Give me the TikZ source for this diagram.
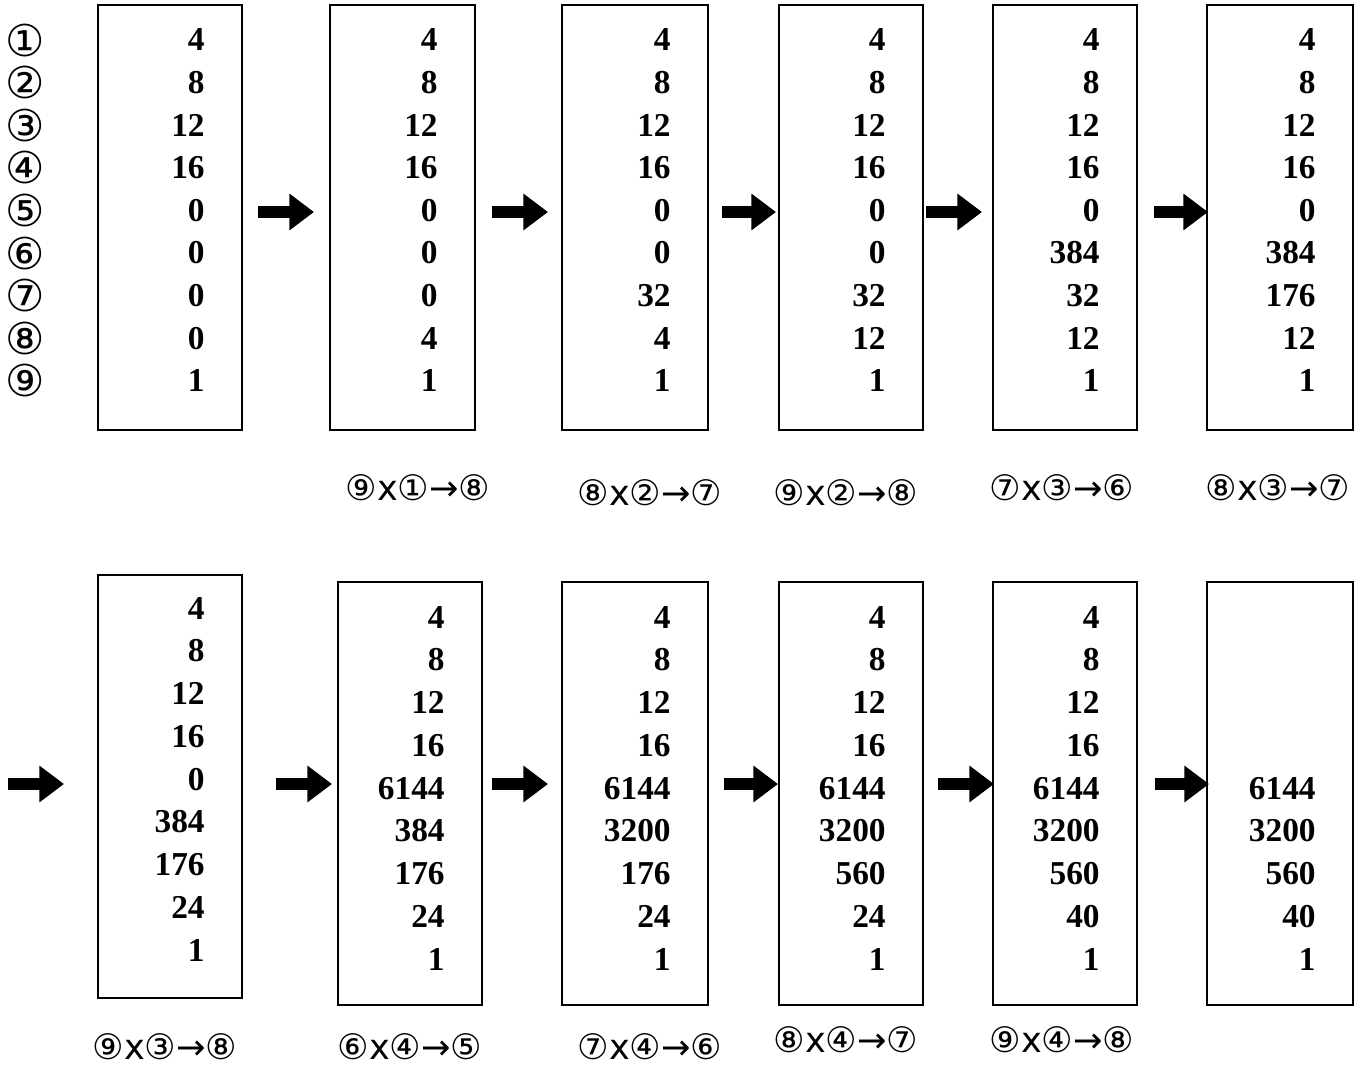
\documentclass[tikz,border=0pt]{standalone}
\usepackage{fontspec}
\setmainfont{Liberation Serif}
\newfontfamily\djv{DejaVu Sans}
\usetikzlibrary{arrows.meta}
\begin{document}
\begin{tikzpicture}[x=0.02cm,y=-0.02cm,
  regbox/.style={draw,line width=1.6pt},
  num/.style={anchor=east,font=\fontsize{19}{22}\selectfont\bfseries,inner sep=0pt},
  circ/.style={font=\djv\fontsize{25}{26}\selectfont,inner sep=0pt},
  oplabel/.style={font=\djv\fontsize{20}{22}\selectfont,inner sep=0pt},
  fatarrow/.style={line width=7pt,-{Triangle[length=14pt,width=20pt]}}]
\useasboundingbox (0,0) rectangle (1359,1066);
% circled labels
\foreach \t [count=\i] in {①,②,③,④,⑤,⑥,⑦,⑧,⑨}
  \node[circ] (c\i) at (25,{40+(\i-1)*42.6}) {\t};
% top row
\foreach \xa/\xb/\vals [count=\k] in {
 98/242/{4,8,12,16,0,0,0,0,1},
 330/475/{4,8,12,16,0,0,0,4,1},
 562/708/{4,8,12,16,0,0,32,4,1},
 779/923/{4,8,12,16,0,0,32,12,1},
 993/1137/{4,8,12,16,0,384,32,12,1},
 1207/1353/{4,8,12,16,0,384,176,12,1}}{
  \draw[regbox] (\xa,5) rectangle (\xb,430);
  \foreach \v [count=\i] in \vals
    \node[num] (t\k-\i) at ({\xb-37},{40+(\i-1)*42.6}) {\v};
}
% bottom row
\foreach \xa/\xb/\yt/\yb/\yo/\vals [count=\k] in {
 98/242/575/998/608/{4,8,12,16,0,384,176,24,1},
 338/482/582/1005/617/{4,8,12,16,6144,384,176,24,1},
 562/708/582/1005/617/{4,8,12,16,6144,3200,176,24,1},
 779/923/582/1005/617/{4,8,12,16,6144,3200,560,24,1},
 993/1137/582/1005/617/{4,8,12,16,6144,3200,560,40,1},
 1207/1353/582/1005/617/{,,,,6144,3200,560,40,1}}{
  \draw[regbox] (\xa,\yt) rectangle (\xb,\yb);
  \foreach \v [count=\i] in \vals
    \node[num] (b\k-\i) at ({\xb-37},{\yo+(\i-1)*42.8}) {\v};
}
% arrows
\foreach \s/\e/\y [count=\k] in {258/314/212,492/548/212,722/776/212,926/982/212,1154/1208/212,
  8/64/784,276/332/784,492/548/784,724/778/784,938/994/784,1155/1209/784}{
  \coordinate (as\k) at (\s,\y); \coordinate (ae\k) at (\e,\y);
  \draw[fatarrow] (as\k) -- (ae\k);
}
% operation labels
\node[oplabel] (l1) at (418,488) {⑨x①→⑧};
\node[oplabel] (l2) at (650,493) {⑧x②→⑦};
\node[oplabel] (l3) at (846,493) {⑨x②→⑧};
\node[oplabel] (l4) at (1062,488) {⑦x③→⑥};
\node[oplabel] (l5) at (1278,488) {⑧x③→⑦};
\node[oplabel] (l6) at (165,1047) {⑨x③→⑧};
\node[oplabel] (l7) at (410,1047) {⑥x④→⑤};
\node[oplabel] (l8) at (650,1047) {⑦x④→⑥};
\node[oplabel] (l9) at (846,1040) {⑧x④→⑦};
\node[oplabel] (l10) at (1062,1040) {⑨x④→⑧};
\end{tikzpicture}
\end{document}
